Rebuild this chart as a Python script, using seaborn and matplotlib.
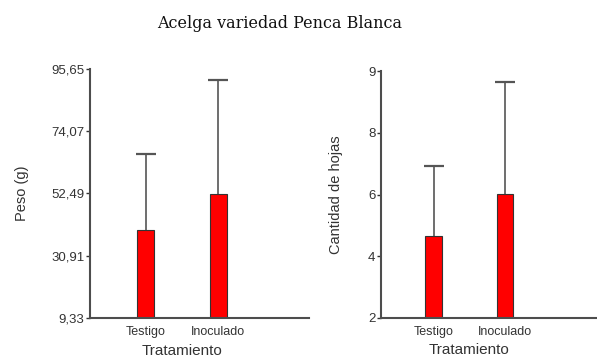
import numpy as np
import pandas as pd
import matplotlib
matplotlib.use("Agg")
import matplotlib.pyplot as plt
import seaborn as sns

# Datos: medias y limite superior de la barra de error

tratamientos = ["Testigo", "Inoculado"]
peso_media = [39.8, 52.4]
peso_sup = [66.3, 91.8]
hojas_media = [4.33, 5.51]
hojas_sup = [6.31, 8.69]

peso_ticks = [9.33, 30.91, 52.49, 74.07, 95.65]
peso_labels = ["9,33", "30,91", "52,49", "74,07", "95,65"]
hojas_ticks = [2, 3.75, 5.5, 7.25, 9]
hojas_labels = ["2", "4", "6", "8", "9"]

df = pd.DataFrame({
    "Tratamiento": tratamientos,
    "Peso": peso_media,
    "Hojas": hojas_media,
})

sns.set_style("ticks")
plt.rcParams["font.family"] = ["Liberation Sans", "DejaVu Sans"]

fig = plt.figure(figsize=(5.97, 3.6), dpi=100)
ax1 = fig.add_axes([0.1508, 0.1167, 0.3668, 0.6917])
ax2 = fig.add_axes([0.6382, 0.1167, 0.3618, 0.686])

color_eje = "#4d4d4d"
color_txt = "#333333"


def panel(ax, col, sup, ticks, labels, ylabel, xlim, pad_y):
    # barra de error solo hacia arriba, con tapa
    medias = df[col].values
    xs = np.arange(len(medias))
    ax.vlines(xs, medias, sup, color="#555555", linewidth=1.2, zorder=0.5)
    ax.hlines(sup, xs - 0.138, xs + 0.138, color="#555555", linewidth=1.6, zorder=0.5)
    sns.barplot(data=df, x="Tratamiento", y=col, ax=ax, color="#ff0000",
                width=0.235, edgecolor="#333333", linewidth=0.8,
                saturation=1, errorbar=None, zorder=2)
    ax.set_ylim(ticks[0], ticks[-1])
    ax.set_xlim(*xlim)
    ax.set_yticks(ticks)
    ax.set_yticklabels(labels)
    ax.set_ylabel(ylabel, fontsize=10.5, color=color_txt, labelpad=pad_y)
    ax.set_xlabel("Tratamiento", fontsize=11, color=color_txt)
    ax.xaxis.set_label_coords((0.5 - xlim[0]) / (xlim[1] - xlim[0]), -0.103)
    ax.tick_params(axis="both", labelsize=9.5, colors=color_txt,
                   length=3, width=1, pad=1)
    ax.tick_params(axis="x", length=0, pad=6, labelsize=9)
    for s in ["top", "right"]:
        ax.spines[s].set_visible(False)
    for s in ["left", "bottom"]:
        ax.spines[s].set_color(color_eje)
        ax.spines[s].set_linewidth(1.5)
    ax.set_facecolor("white")


panel(ax1, "Peso", peso_sup, peso_ticks, peso_labels, "Peso (g)", (-0.766, 2.255), 16)
panel(ax2, "Hojas", hojas_sup, hojas_ticks, hojas_labels, "Cantidad de hojas", (-0.739, 2.29), 18)

fig.text(0.469, 0.935, "Acelga variedad Penca Blanca", ha="center", va="center",
         fontsize=11.5, family="DejaVu Serif", color="#111111")

fig.savefig("out.png", dpi=100, facecolor="white")
